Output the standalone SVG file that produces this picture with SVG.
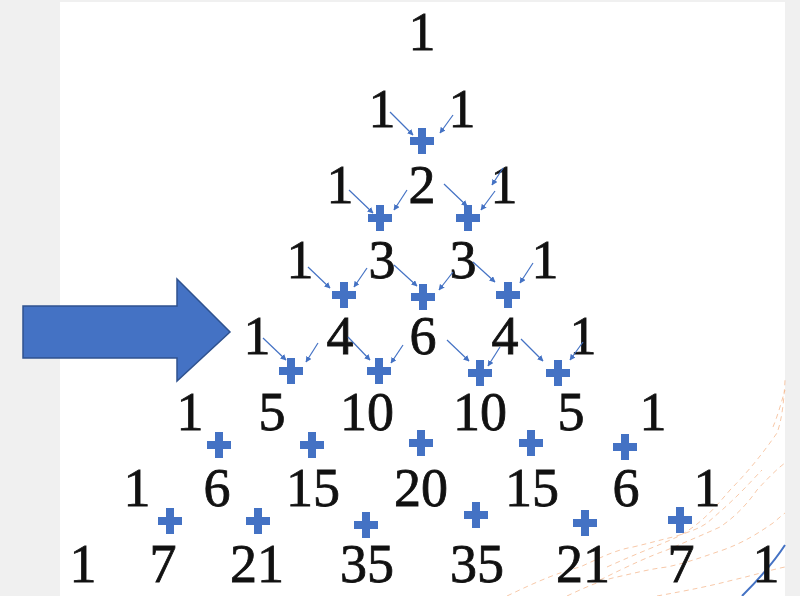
<svg xmlns="http://www.w3.org/2000/svg" xmlns:xlink="http://www.w3.org/1999/xlink" width="800" height="596" viewBox="0 0 800 596">
<style>
.n{font-family:"Liberation Serif","DejaVu Serif",serif;font-size:54px;fill:#111;stroke:#111;stroke-width:0.8;text-anchor:middle}
.p{fill:#4472C4}
.c{stroke:#4472C4;stroke-width:1.2;fill:none;marker-end:url(#ah)}
.d{stroke:#f4b183;stroke-width:1;fill:none;stroke-dasharray:5 4;opacity:0.7}
</style>
<defs>
<marker id="ah" viewBox="0 0 10 10" refX="9" refY="5" markerWidth="6" markerHeight="6" markerUnits="userSpaceOnUse" orient="auto">
<path d="M0,0 L10,5 L0,10 z" fill="#4472C4"/>
</marker>
<path id="plus" d="M-4,-13 h8 v9 h8 v8 h-8 v9 h-8 v-9 h-8 v-8 h8 z"/>
</defs>
<rect x="0" y="0" width="800" height="596" fill="#f0f0f0"/>
<rect x="60" y="2" width="725" height="594" fill="#ffffff"/>
<g id="background-curves">
<path class="d" d="M607,567 C640,552 660,545 677,537 C700,525 713,510 730,490 C755,465 772,440 777,433 C782,420 784,400 785,380"/>
<path class="d" d="M600,580 C630,565 650,556 667,550 C690,540 705,534 720,527 C738,515 750,500 757,490 C768,478 778,468 785,463"/>
<path class="d" d="M507,596 C540,580 560,572 580,567 C600,558 615,550 633,547 C650,543 660,540 673,537 C690,532 700,528 707,523 C720,512 730,503 740,493 C750,483 756,476 762,470"/>
<path class="d" d="M567,596 C590,585 603,580 617,577 C635,573 650,569 667,567 C690,562 705,556 723,550 C745,542 760,532 773,523 C778,519 782,515 785,513"/>
<path class="d" d="M657,596 C690,590 710,586 733,580 C755,575 770,570 785,567"/>
<path class="d" d="M773,427 C778,415 782,400 785,390"/>
<path d="M742,596 C758,580 772,565 785,545" stroke="#4472C4" stroke-width="2" fill="none"/>
</g>
<g id="big-arrow">
<path d="M23,306 H177 V279 L230,332 L177,381 V358 H23 Z" fill="#4472C4" stroke="#2F528F" stroke-width="1.5"/>
</g>
<g id="row0"><text class="n" x="422" y="50">1</text></g>
<g id="row1"><text class="n" x="382" y="127">1</text><text class="n" x="462" y="127">1</text></g>
<g id="row2"><text class="n" x="340" y="203">1</text><text class="n" x="422" y="203">2</text><text class="n" x="504" y="203">1</text></g>
<g id="row3"><text class="n" x="300" y="278">1</text><text class="n" x="382" y="278">3</text><text class="n" x="463" y="278">3</text><text class="n" x="545" y="278">1</text></g>
<g id="row4"><text class="n" x="257" y="354">1</text><text class="n" x="340" y="354">4</text><text class="n" x="423" y="354">6</text><text class="n" x="505" y="354">4</text><text class="n" x="583" y="354">1</text></g>
<g id="row5"><text class="n" x="190" y="430">1</text><text class="n" x="272" y="430">5</text><text class="n" x="367" y="430">10</text><text class="n" x="480" y="430">10</text><text class="n" x="571" y="430">5</text><text class="n" x="653" y="430">1</text></g>
<g id="row6"><text class="n" x="137" y="506">1</text><text class="n" x="217" y="506">6</text><text class="n" x="313" y="506">15</text><text class="n" x="421" y="506">20</text><text class="n" x="532" y="506">15</text><text class="n" x="626" y="506">6</text><text class="n" x="707" y="506">1</text></g>
<g id="row7"><text class="n" x="83" y="582">1</text><text class="n" x="163" y="582">7</text><text class="n" x="257" y="582">21</text><text class="n" x="367" y="582">35</text><text class="n" x="477" y="582">35</text><text class="n" x="583" y="582">21</text><text class="n" x="681" y="582">7</text><text class="n" x="766" y="582">1</text></g>
<g id="plus-signs" class="p">
<use xlink:href="#plus" x="422" y="141"/>
<use xlink:href="#plus" x="380" y="218"/>
<use xlink:href="#plus" x="468" y="218"/>
<use xlink:href="#plus" x="344" y="295"/>
<use xlink:href="#plus" x="423" y="297"/>
<use xlink:href="#plus" x="508" y="295"/>
<use xlink:href="#plus" x="291" y="371"/>
<use xlink:href="#plus" x="379" y="371"/>
<use xlink:href="#plus" x="480" y="373"/>
<use xlink:href="#plus" x="558" y="373"/>
<use xlink:href="#plus" x="219" y="445"/>
<use xlink:href="#plus" x="312" y="445"/>
<use xlink:href="#plus" x="421" y="443"/>
<use xlink:href="#plus" x="531" y="443"/>
<use xlink:href="#plus" x="625" y="447"/>
<use xlink:href="#plus" x="170" y="521"/>
<use xlink:href="#plus" x="258" y="521"/>
<use xlink:href="#plus" x="366" y="525"/>
<use xlink:href="#plus" x="476" y="515"/>
<use xlink:href="#plus" x="585" y="523"/>
<use xlink:href="#plus" x="680" y="520"/>
</g>
<g id="connectors">
<line class="c" x1="390" y1="112" x2="413" y2="135"/>
<line class="c" x1="453" y1="115" x2="440" y2="133"/>
<line class="c" x1="349" y1="190" x2="373" y2="213"/>
<line class="c" x1="407" y1="190" x2="394" y2="210"/>
<line class="c" x1="444" y1="184" x2="467" y2="206"/>
<line class="c" x1="503" y1="168" x2="492" y2="185"/>
<line class="c" x1="495" y1="191" x2="481" y2="210"/>
<line class="c" x1="308" y1="267" x2="330" y2="288"/>
<line class="c" x1="367" y1="268" x2="354" y2="287"/>
<line class="c" x1="394" y1="265" x2="417" y2="286"/>
<line class="c" x1="453" y1="272" x2="439" y2="290"/>
<line class="c" x1="473" y1="262" x2="495" y2="282"/>
<line class="c" x1="533" y1="263" x2="520" y2="283"/>
<line class="c" x1="263" y1="338" x2="286" y2="360"/>
<line class="c" x1="318" y1="343" x2="306" y2="362"/>
<line class="c" x1="348" y1="337" x2="370" y2="360"/>
<line class="c" x1="403" y1="345" x2="391" y2="363"/>
<line class="c" x1="447" y1="340" x2="469" y2="361"/>
<line class="c" x1="500" y1="347" x2="488" y2="366"/>
<line class="c" x1="521" y1="339" x2="543" y2="361"/>
<line class="c" x1="583" y1="342" x2="570" y2="360"/>
</g>
</svg>
